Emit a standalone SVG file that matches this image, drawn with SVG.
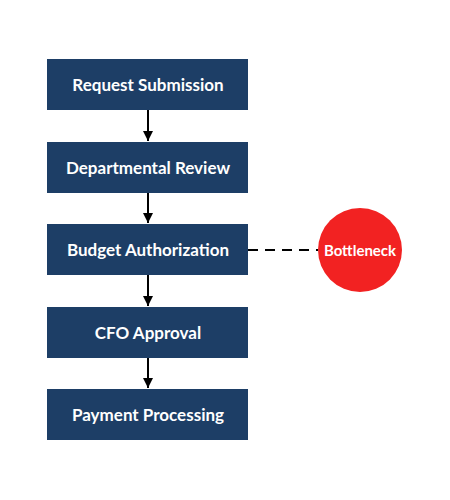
<svg xmlns="http://www.w3.org/2000/svg" width="450" height="500" viewBox="0 0 450 500">
<defs>
<style>
.box{fill:#1d3e66}
.lbl{font-family:Lato,"Liberation Sans",sans-serif;font-weight:bold;font-size:17px;fill:#ffffff;text-anchor:middle;dominant-baseline:central}
.conn{stroke:#000000;stroke-width:2;fill:none}
.dash{stroke:#000000;stroke-width:2;stroke-dasharray:10,7;fill:none}
</style>
<marker id="ah" viewBox="0 0 10 10" refX="10" refY="5" markerWidth="10" markerHeight="10" markerUnits="userSpaceOnUse" orient="auto">
<path d="M0,0 L10,5 L0,10 Z" fill="#000000"/>
</marker>
</defs>
<rect width="450" height="500" fill="#ffffff"/>
<g id="connectors">
<line class="conn" x1="148" y1="110" x2="148" y2="141" marker-end="url(#ah)"/>
<line class="conn" x1="148" y1="193" x2="148" y2="223" marker-end="url(#ah)"/>
<line class="conn" x1="148" y1="275" x2="148" y2="306" marker-end="url(#ah)"/>
<line class="conn" x1="148" y1="358" x2="148" y2="388" marker-end="url(#ah)"/>
<line class="dash" x1="248" y1="250" x2="318" y2="250"/>
</g>
<g id="request-submission">
<rect class="box" x="47" y="59" width="201" height="51"/>
<text class="lbl" x="148" y="84">Request Submission</text>
</g>
<g id="departmental-review">
<rect class="box" x="47" y="142" width="201" height="51"/>
<text class="lbl" x="148" y="167">Departmental Review</text>
</g>
<g id="budget-authorization">
<rect class="box" x="47" y="224" width="201" height="51"/>
<text class="lbl" x="148" y="249">Budget Authorization</text>
</g>
<g id="cfo-approval">
<rect class="box" x="47" y="307" width="201" height="51"/>
<text class="lbl" x="148" y="332">CFO Approval</text>
</g>
<g id="payment-processing">
<rect class="box" x="47" y="389" width="201" height="51"/>
<text class="lbl" x="148" y="414">Payment Processing</text>
</g>
<g id="bottleneck">
<circle cx="360" cy="250" r="42" fill="#f22222"/>
<text class="lbl" x="360" y="250" style="font-size:15px">Bottleneck</text>
</g>
</svg>
